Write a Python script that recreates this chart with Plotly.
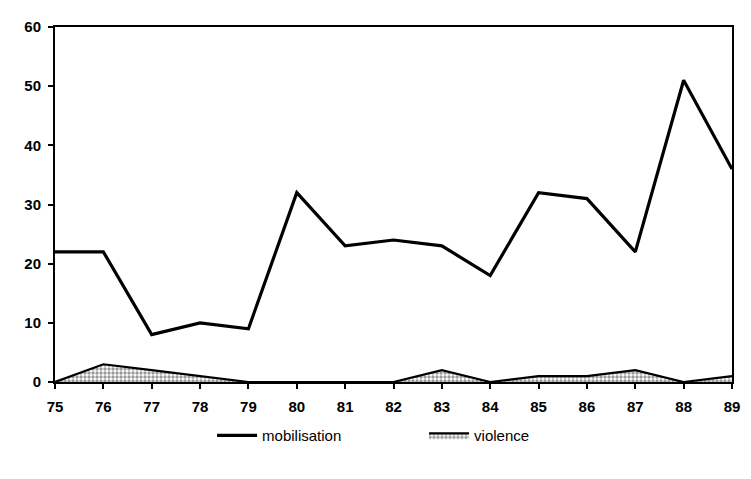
import plotly.graph_objects as go

years = [75, 76, 77, 78, 79, 80, 81, 82, 83, 84, 85, 86, 87, 88, 89]
mobilisation = [22, 22, 8, 10, 9, 32, 23, 24, 23, 18, 32, 31, 22, 51, 36]
violence = [0, 3, 2, 1, 0, 0, 0, 0, 2, 0, 1, 1, 2, 0, 1]
y_ticks = [0, 10, 20, 30, 40, 50, 60]

fig = go.Figure()
fig.add_trace(go.Scatter(
    x=years, y=mobilisation, name="mobilisation", mode="lines",
    line=dict(color="black", width=3.2),
))
fig.add_trace(go.Scatter(
    x=years, y=violence, name="violence", mode="lines",
    line=dict(color="black", width=2.2), fill="tozeroy", fillcolor="white",
    fillpattern=dict(shape=".", fgcolor="#333333", bgcolor="white", size=4, solidity=0.55),
))

tick_font = dict(size=15, family="Liberation Sans, Arial", weight="bold")

# page body has an 8px margin, so the figure is sized to sit inside the window
fig.update_layout(
    width=743, height=471,
    plot_bgcolor="white", paper_bgcolor="white",
    margin=dict(l=47, r=19, t=10, b=97),
    font=dict(family="Liberation Sans, Arial", size=14, color="black"),
    showlegend=True,
    legend=dict(orientation="h", x=0.232, xanchor="left", y=-0.151, yanchor="middle",
                font=dict(size=15), entrywidth=157, itemwidth=40),
)
fig.update_xaxes(
    range=[75, 89], tickvals=years, ticktext=[str(v) for v in years],
    showgrid=False, zeroline=False, showline=True, linecolor="black", linewidth=2,
    mirror=True, ticks="outside", ticklen=5, tickwidth=2, tickcolor="black",
    tickfont=tick_font, ticklabelstandoff=5,
)
fig.update_yaxes(
    range=[0, 60], tickvals=y_ticks,
    showgrid=False, zeroline=False, showline=True, linecolor="black", linewidth=2,
    mirror=True, ticks="outside", ticklen=5, tickwidth=2, tickcolor="black",
    tickfont=tick_font, ticklabelstandoff=4,
)

fig.write_html("out.html")
